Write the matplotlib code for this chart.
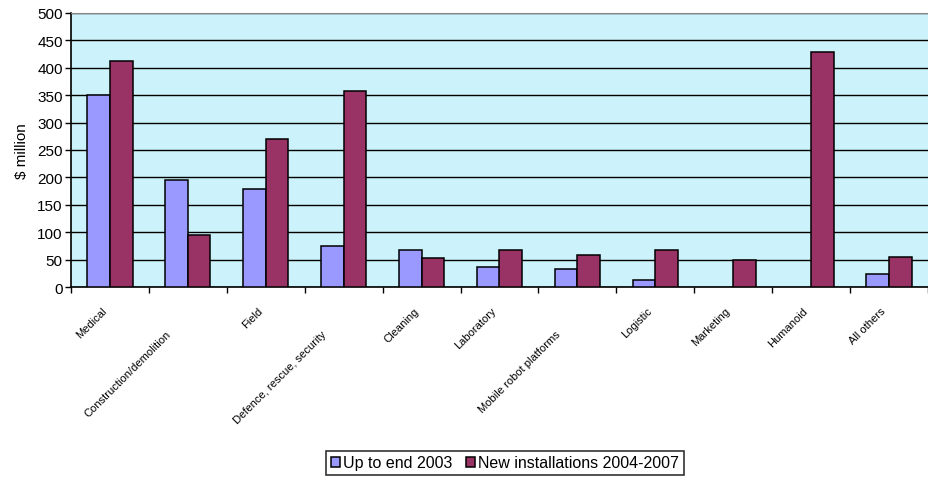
import matplotlib
matplotlib.use("Agg")
import matplotlib.pyplot as plt
import numpy as np

# data ($ million)
categories = ["Medical", "Construction/demolition", "Field", "Defence, rescue, security",
              "Cleaning", "Laboratory", "Mobile robot platforms", "Logistic",
              "Marketing", "Humanoid", "All others"]
up_to_2003 = [351, 196, 178, 75, 68, 36, 32, 13, 0, 0, 24]
new_2004_2007 = [413, 94, 270, 358, 53, 68, 58, 68, 50, 428, 54]
series_names = ["Up to end 2003", "New installations 2004-2007"]
staggered = [1, 3, 6]

plt.rcParams['font.family'] = ['Liberation Sans', 'DejaVu Sans']

fig = plt.figure(figsize=(9.29, 4.81), dpi=100)
ax = fig.add_axes([71 / 929, 1 - 288 / 481, 857 / 929, 274 / 481])
ax.set_facecolor('#ccf3fb')

x = np.arange(len(categories))
w = 0.29
b1 = ax.bar(x - w / 2, up_to_2003, w, color='#9999ff', edgecolor='black', linewidth=1.1,
            label=series_names[0], zorder=3)
b2 = ax.bar(x + w / 2, new_2004_2007, w, color='#993366', edgecolor='black', linewidth=1.1,
            label=series_names[1], zorder=3)
# empty bars show nothing in the original
for p in list(b1) + list(b2):
    if p.get_height() == 0:
        p.set_visible(False)

ax.set_xlim(-0.5, len(categories) - 0.5)
ax.set_ylim(0, 500)
ax.set_yticks(np.arange(0, 501, 50))
ax.tick_params(axis='y', labelsize=11, length=4, width=1, direction='out', pad=2)
ax.yaxis.grid(True, color='black', linewidth=1, zorder=0)
ax.set_axisbelow(True)
ax.set_ylabel("$ million", fontsize=11, labelpad=6)

# category boundary ticks, labels placed separately
ax.set_xticks(np.arange(0, len(categories) + 1) - 0.5)
ax.set_xticklabels([])
ax.tick_params(axis='x', length=4, width=1, direction='out')

for i, name in enumerate(categories):
    if i in staggered:
        off = (-16, -30)
    else:
        off = (-6, -13)
    ax.annotate(name, xy=(i, 0), xycoords=('data', 'axes fraction'),
                xytext=off, textcoords='offset points', rotation=45,
                rotation_mode='anchor', ha='right', va='top', fontsize=8)

for s in ['left', 'bottom']:
    ax.spines[s].set_color('black')
    ax.spines[s].set_linewidth(1.2)
ax.spines['top'].set_color('#888888')
ax.spines['right'].set_visible(False)

leg = fig.legend(handles=[b1, b2], loc='center', bbox_to_anchor=(505 / 929, 1 - 464 / 481),
                 ncol=2, fontsize=11.5, frameon=True, fancybox=False, edgecolor='black',
                 handlelength=0.6, handleheight=0.6, handletextpad=0.2, columnspacing=0.8,
                 borderpad=0.3)
leg.get_frame().set_linewidth(1.2)

fig.savefig("out.png", dpi=100)
